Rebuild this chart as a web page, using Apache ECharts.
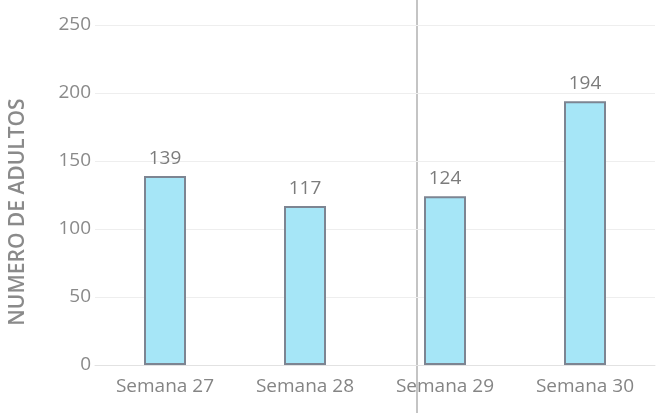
<!DOCTYPE html>
<html>
<head>
<meta charset="utf-8">
<script src="https://cdn.jsdelivr.net/npm/echarts@6/dist/echarts.min.js"></script>
<style>
  html, body { margin: 0; padding: 0; background: #fff; }
  #chart { width: 666px; height: 413px; }
</style>
</head>
<body>
<div id="chart"></div>
<script>
  const categories = ['Semana 27', 'Semana 28', 'Semana 29', 'Semana 30'];
  const adults = [139, 117, 124, 194];
  const yTicks = [0, 50, 100, 150, 200, 250];

  const chart = echarts.init(document.getElementById('chart'));
  chart.setOption({
    animation: false,
    grid: { top: 25, left: 88, right: 11, bottom: 48 },
    textStyle: { fontFamily: 'Open Sans' },
    xAxis: {
      type: 'category',
      data: categories,
      axisTick: { show: false },
      axisLine: { lineStyle: { color: '#e2e2e2' } },
      axisLabel: { color: '#858585', fontSize: 19, margin: 12 },
    },
    yAxis: {
      type: 'value',
      min: yTicks[0],
      max: yTicks[yTicks.length - 1],
      interval: 50,
      name: 'NUMERO DE ADULTOS',
      nameLocation: 'middle',
      nameGap: 66,
      nameTextStyle: {
        color: '#8a8a8a',
        fontSize: 21,
        fontWeight: 600,
        padding: [0, 34, 0, 0],
      },
      axisLine: { show: false },
      axisTick: { show: false },
      axisLabel: { color: '#8a8a8a', fontSize: 19, margin: 4 },
      splitLine: { lineStyle: { color: '#eeeeee' } },
    },
    series: [
      {
        type: 'bar',
        data: adults,
        barWidth: 42,
        itemStyle: { color: '#a6e6f7', borderColor: '#7d8592', borderWidth: 2 },
        label: {
          show: true,
          position: 'top',
          distance: 8,
          color: '#7c7c7c',
          fontSize: 19,
        },
      },
    ],
    graphic: [
      {
        type: 'line',
        shape: { x1: 417, y1: 0, x2: 417, y2: 413 },
        style: { stroke: '#c4c4c4', lineWidth: 2 },
      },
    ],
  });
</script>
</body>
</html>
